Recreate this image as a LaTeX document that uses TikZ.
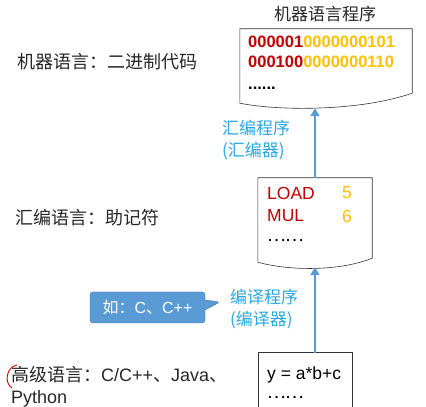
\documentclass[tikz,border=0pt]{standalone}
\usepackage{fontspec}
\setmainfont{Liberation Sans}
\newfontfamily\zhfont{Noto Sans CJK SC}
\usetikzlibrary{arrows.meta}
\usetikzlibrary{shapes.callouts}
\definecolor{codered}{HTML}{C00000}
\definecolor{codegold}{HTML}{FFC000}
\definecolor{arrowblue}{HTML}{5B9BD5}
\definecolor{toolblue}{HTML}{2AA7E0}
\definecolor{calloutedge}{HTML}{41719C}
\tikzset{
    box/.style = {rectangle, draw=none, inner sep=0pt},
    docline/.style = {draw=black!80, line width=0.6pt},
    title/.style = {inner sep=0pt, text=black!85, font=\fontsize{17}{20}\selectfont\zhfont},
    lbl/.style = {anchor=west, inner sep=0pt, text=black!85, font=\fontsize{18}{22}\selectfont\zhfont},
    tool/.style = {anchor=west, align=left, inner sep=0pt, text=toolblue, font=\fontsize{17}{22}\selectfont\zhfont},
    code/.style = {anchor=west, inner sep=0pt, font=\fontsize{17.5}{20}\selectfont},
    bits/.style = {anchor=west, inner sep=0pt, font=\fontsize{16.5}{19}\selectfont\bfseries},
    hint/.style = {rectangle callout, fill=arrowblue, draw=calloutedge, rounded corners=3pt,
        minimum width=115, minimum height=31, text=white, callout pointer width=10pt,
        font=\fontsize{16}{19}\selectfont},
    flow/.style = {-{Triangle[length=8pt,width=9pt]}, line width=2.6pt, arrowblue}
}
\newcommand{\zh}[1]{{\zhfont #1}}
\newcommand{\en}[1]{{\rmfamily #1}}
\newcommand{\R}[1]{\textcolor{codered}{#1}}
\newcommand{\G}[1]{\textcolor{codegold}{#1}}

\begin{document}
\begin{tikzpicture}[x=1pt,y=1pt]
\useasboundingbox (0,0) rectangle (426,407);
% machine code
\node[title] at (325,393) (mtitle) {机器语言程序};
\node[box, minimum width=172, minimum height=72] at (326,342) (mc) {};
\node[bits] at (248,365) (bits1) {\R{000001}\G{0000000101}};
\node[bits] at (248,345) (bits2) {\R{000100}\G{0000000110}};
\node[bits, anchor=base west] at (248,317) (bits3) {......};
\draw[docline] (mc.north west) -- (mc.north east) -- ([yshift=8pt]mc.south east)
    .. controls +(-52,-18) and +(40,-8) .. ([yshift=-2pt]mc.south west) -- cycle;
%
% assembly
\node[box, minimum width=114, minimum height=83] at (315,187.5) (asm) {};
\node[code] at (267,214) (load) {\R{LOAD}};
\node[code] at (342,214) (n5) {\G{5}};
\node[code] at (267,191) (mul) {\R{MUL}};
\node[code] at (342,191) (n6) {\G{6}};
\node[code] at (267,166) (asmdots) {\zh{……}};
\draw[docline] (asm.north west) -- (asm.north east) -- ([yshift=3pt]asm.south east)
    .. controls +(-35,-14) and +(28,-8) .. ([yshift=-1pt]asm.south west) -- cycle;
%
% high level
\node[box, minimum width=94, minimum height=54] at (305,27) (hl) {};
\node[code] at (267,32) (expr) {y = a*b+c};
\node[code] at (267,9) (hldots) {\zh{……}};
\draw[docline] (hl.south west) -- (hl.north west) -- (hl.north east) -- (hl.south east);
%
\draw[flow] (asm.north) -- ([yshift=-7pt]asm.north |- mc.south);
\draw[flow] (hl.north -| asm.south) -- ([yshift=-6pt]asm.south);
\node[tool] at (222,267) (asmr) {汇编程序\\(汇编器)};
\node[tool] at (230,98) (cmp) {编译程序\\(编译器)};
\node[hint, callout absolute pointer={(220,105)}] at (147.5,99.5) (eg) {\zh{如：}C\zh{、}C++};
%
\node[lbl] at (17,345) (ml) {机器语言：二进制代码};
\node[lbl] at (15,189) (al) {汇编语言：助记符};
\node[lbl, align=left] at (11,20) (hll) {高级语言：\en{C/C++}、\en{Java}、\\\en{Python}};
\draw[red!80!black, line width=0.9pt] (17,42) .. controls (6,40) and (4,24) .. (12,19);
\end{tikzpicture}
\end{document}
